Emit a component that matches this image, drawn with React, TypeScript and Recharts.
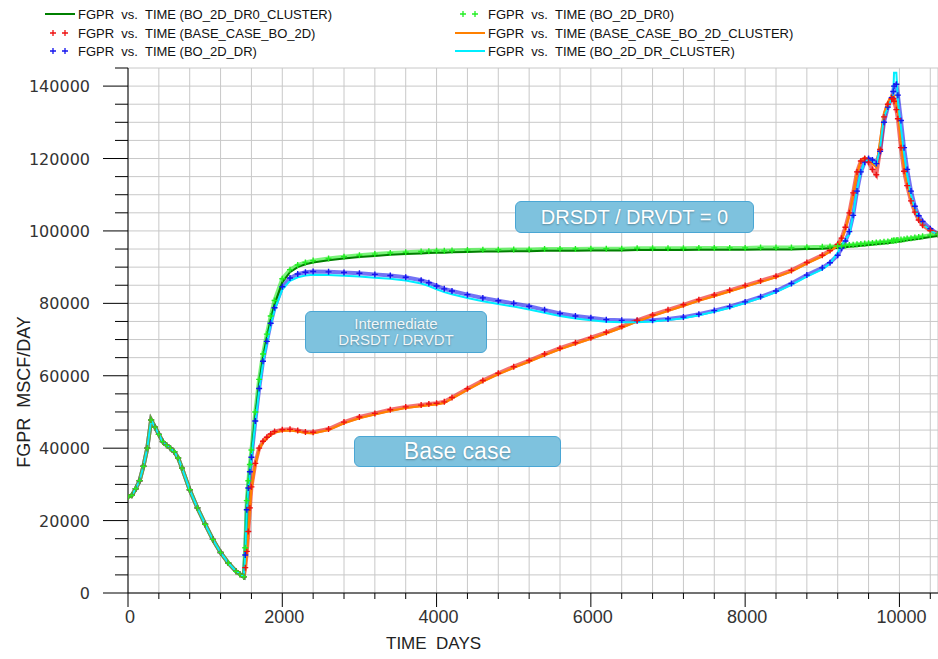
import React from 'react';
import { LineChart, Line, XAxis, YAxis, CartesianGrid } from 'recharts';

// Shared history (all cases identical before 1500 days)
const historyDays = [0, 50, 100, 150, 200, 250, 300, 350, 400, 450, 500, 550, 600, 650, 700, 800, 900, 1000, 1100, 1200, 1300, 1400, 1450, 1500];
const historyRate = [26500, 27000, 28800, 31000, 35000, 40000, 47800, 45800, 43800, 41800, 40800, 40000, 39000, 37300, 34500, 28500, 23500, 19000, 14800, 11200, 8300, 6000, 5200, 4500];

const forecastDays = [
  1520, 1540, 1560, 1580, 1600, 1650, 1700, 1750, 1800, 1850,
  1900, 2000, 2100, 2200, 2300, 2400, 2600, 2800, 3000, 3200,
  3400, 3600, 3800, 3900, 4000, 4100, 4200, 4400, 4600, 4800,
  5000, 5200, 5400, 5600, 5800, 6000, 6200, 6400, 6600, 6800,
  7000, 7200, 7400, 7600, 7800, 8000, 8200, 8400, 8600, 8800,
  9000, 9100, 9200, 9250, 9300, 9350, 9400, 9450, 9500, 9550,
  9600, 9650, 9700, 9750, 9800, 9850, 9900, 9920, 9930, 9960,
  9980, 10020, 10060, 10100, 10150, 10200, 10250, 10300, 10400, 10500,
];

const dr0ClusterRate = [
  11000, 24000, 29500, 34000, 38000, 48500, 57500, 65000, 70500, 75500,
  79800, 85800, 88600, 90000, 90800, 91300, 91900, 92400, 92800, 93100,
  93400, 93600, 93800, 93900, 94000, 94000, 94100, 94200, 94300, 94300,
  94400, 94400, 94500, 94500, 94500, 94600, 94600, 94600, 94700, 94700,
  94700, 94700, 94800, 94800, 94800, 94800, 94900, 94900, 94900, 95000,
  95100, 95200, 95300, 95400, 95500, 95600, 95700, 95800, 95900, 96000,
  96100, 96200, 96300, 96400, 96500, 96600, 96800, 96800, 96900, 96900,
  97000, 97100, 97200, 97400, 97500, 97700, 97800, 98000, 98300, 98600,
];

const dr0Rate = [
  12500, 25500, 31000, 35500, 39500, 50000, 59000, 66000, 71500, 76500,
  80800, 86800, 89300, 90600, 91300, 91800, 92400, 92900, 93300, 93600,
  93900, 94100, 94300, 94400, 94500, 94500, 94600, 94700, 94800, 94800,
  94900, 94900, 95000, 95000, 95000, 95100, 95100, 95100, 95200, 95200,
  95200, 95200, 95300, 95300, 95300, 95300, 95400, 95400, 95400, 95500,
  95600, 95700, 95800, 95900, 96000, 96100, 96200, 96300, 96400, 96500,
  96600, 96700, 96800, 96900, 97000, 97100, 97300, 97300, 97400, 97400,
  97500, 97600, 97700, 97900, 98000, 98200, 98300, 98500, 98800, 99100,
];

const baseRate = [
  7000, 11500, 17000, 23500, 29300, 35800, 40000, 41900, 43000, 43900,
  44600, 45100, 45200, 44900, 44500, 44400, 45300, 47200, 48600, 49600,
  50600, 51400, 51900, 52200, 52400, 52800, 54000, 56400, 58700, 60700,
  62500, 64200, 66000, 67600, 69100, 70500, 72000, 73600, 75300, 76800,
  78200, 79600, 81000, 82300, 83600, 84900, 86200, 87500, 89100, 91300,
  93300, 94600, 96300, 98000, 101000, 105000, 110500, 116300, 119300, 120000,
  119000, 117000, 115500, 122500, 131500, 135000, 136500, 136500, 135800, 133500,
  131000, 123000, 116500, 112500, 108300, 105200, 103000, 101600, 100100, 99100,
];

const baseClusterRate = [
  6500, 11000, 16400, 22900, 28800, 35400, 39700, 41600, 42700, 43600,
  44300, 44800, 44900, 44600, 44200, 44100, 45000, 46900, 48300, 49300,
  50300, 51100, 51600, 51900, 52100, 52500, 53700, 56100, 58400, 60400,
  62200, 63900, 65700, 67300, 68800, 70200, 71700, 73300, 75000, 76500,
  77900, 79300, 80700, 82000, 83300, 84600, 85900, 87200, 88800, 91000,
  93000, 94300, 96000, 97600, 100500, 104500, 110000, 116000, 119300, 120300,
  119700, 118500, 117600, 125000, 132500, 135600, 137500, 137700, 137300, 135000,
  133000, 124000, 117200, 113000, 108700, 105400, 103200, 101700, 100100, 99100,
];

const drRate = [
  10500, 23000, 29000, 33500, 37500, 47500, 56500, 64000, 69500, 74500,
  78800, 84600, 87000, 88100, 88600, 88800, 88700, 88500, 88300, 88000,
  87700, 87200, 86400, 85700, 84800, 84000, 83400, 82400, 81500, 80700,
  80000, 79200, 78200, 77200, 76500, 76000, 75500, 75300, 75200, 75300,
  75700, 76200, 77000, 78000, 79100, 80400, 81800, 83400, 85500, 87800,
  89800, 91200, 93300, 95200, 97200, 99800, 104300, 111000, 116300, 119000,
  120000, 119600, 118600, 122000, 130000, 134200, 136800, 138500, 140000, 140500,
  137500, 130500, 123000, 117000, 111000, 106800, 104200, 102600, 100600, 99100,
];

const drClusterRate = [
  10500, 23000, 29000, 33500, 37500, 47000, 56000, 63500, 69000, 74000,
  78200, 83800, 86200, 87200, 87700, 87900, 87800, 87600, 87400, 87100,
  86800, 86300, 85500, 84800, 83900, 83100, 82500, 81500, 80600, 79800,
  79100, 78300, 77400, 76500, 75800, 75300, 74900, 74800, 74800, 75000,
  75400, 75900, 76700, 77700, 78800, 80100, 81500, 83100, 85100, 87400,
  89400, 91000, 94000, 96000, 97700, 99000, 104500, 111500, 116300, 119000,
  119800, 119300, 118200, 123000, 131500, 134000, 136600, 137700, 143700, 143700,
  136000, 128500, 121500, 115500, 110000, 106300, 103600, 102000, 100100, 99000,
];

const xTicks = [0, 400, 800, 1200, 1600, 2000, 2400, 2800, 3200, 3600, 4000, 4400, 4800, 5200, 5600, 6000, 6400, 6800, 7200, 7600, 8000, 8400, 8800, 9200, 9600, 10000, 10400];
const yTicks = [0, 5000, 10000, 15000, 20000, 25000, 30000, 35000, 40000, 45000, 50000, 55000, 60000, 65000, 70000, 75000, 80000, 85000, 90000, 95000, 100000, 105000, 110000, 115000, 120000, 125000, 130000, 135000, 140000, 145000];

const COLORS = {
  dr0c: '#008000',
  dr0: '#22ee22',
  base: '#ee1111',
  basec: '#ff8000',
  dr: '#1515ee',
  drc: '#00eeff',
};

const allDays = [...historyDays, ...forecastDays];
const join = (arr: number[]) => [...historyRate, ...arr];
const s = {
  dr0c: join(dr0ClusterRate),
  dr0: join(dr0Rate),
  base: join(baseRate),
  basec: join(baseClusterRate),
  dr: join(drRate),
  drc: join(drClusterRate),
};
const rows = allDays.map((t, i) => ({
  t,
  dr0c: s.dr0c[i],
  dr0: s.dr0[i],
  base: s.base[i],
  basec: s.basec[i],
  dr: s.dr[i],
  drc: s.drc[i],
}));

const plusDot = (color: string) => (props: any) => {
  const { cx, cy, index } = props;
  if (cx == null || cy == null) return <g key={index} />;
  return (
    <path
      key={index}
      d={`M${cx - 3},${cy}H${cx + 3}M${cx},${cy - 3}V${cy + 3}`}
      stroke={color}
      strokeWidth={1.4}
      fill="none"
    />
  );
};

const XTick = (props: any) => {
  const { x, y, payload } = props;
  const v = payload.value;
  const major = v % 2000 === 0;
  return (
    <g>
      <line x1={x} x2={x} y1={y} y2={y + (major ? 14 : 6)} stroke="#000" strokeWidth={1} />
      {major && (
        <text x={x + 2} y={y + 30} textAnchor="middle" fontFamily="'Liberation Sans', Arial, sans-serif" fontSize={18} fill="#333">
          {v}
        </text>
      )}
    </g>
  );
};

const YTick = (props: any) => {
  const { x, y, payload } = props;
  const v = payload.value;
  const major = v % 20000 === 0;
  return (
    <g>
      <line x1={x - (major ? 25 : 13)} x2={x} y1={y} y2={y} stroke="#000" strokeWidth={1} />
      {major && (
        <text x={x - 38} y={y + 6} textAnchor="end" fontFamily="'DejaVu Sans', sans-serif" fontSize={16} fill="#333">
          {v}
        </text>
      )}
    </g>
  );
};

const legendLeft = [
  { label: 'FGPR  vs.  TIME (BO_2D_DR0_CLUSTER)', kind: 'line', color: COLORS.dr0c },
  { label: 'FGPR  vs.  TIME (BASE_CASE_BO_2D)', kind: 'marker', color: COLORS.base },
  { label: 'FGPR  vs.  TIME (BO_2D_DR)', kind: 'marker', color: COLORS.dr },
];
const legendRight = [
  { label: 'FGPR  vs.  TIME (BO_2D_DR0)', kind: 'marker', color: COLORS.dr0 },
  { label: 'FGPR  vs.  TIME (BASE_CASE_BO_2D_CLUSTER)', kind: 'line', color: COLORS.basec },
  { label: 'FGPR  vs.  TIME (BO_2D_DR_CLUSTER)', kind: 'line', color: COLORS.drc },
];
const legendRowsY = [14, 33, 51];

const LegendItem = ({ item, left, top }: any) => (
  <div style={{ position: 'absolute', left, top: top - 9, height: 18, display: 'flex', alignItems: 'center' }}>
    <svg width={32} height={18} style={{ display: 'block' }}>
      {item.kind === 'line' ? (
        <line x1={0} x2={30} y1={9} y2={9} stroke={item.color} strokeWidth={2} />
      ) : (
        <g stroke={item.color} strokeWidth={1.3}>
          <path d="M5,9H11M8,6V12" />
          <path d="M17,9H23M20,6V12" />
        </g>
      )}
    </svg>
    <span style={{ fontFamily: "'Liberation Sans', Arial, sans-serif", fontSize: 13, color: '#111', whiteSpace: 'pre', marginLeft: 1 }}>
      {item.label}
    </span>
  </div>
);

const boxStyle: React.CSSProperties = {
  position: 'absolute',
  boxSizing: 'border-box',
  background: '#7ec2de',
  border: '1.5px solid #4aa6d4',
  borderRadius: 6,
  color: '#fff',
  display: 'flex',
  flexDirection: 'column',
  alignItems: 'center',
  justifyContent: 'center',
  textAlign: 'center',
  fontFamily: "'Liberation Sans', Arial, sans-serif",
  textShadow: '0 1px 2px rgba(0,0,0,0.3)',
};

export default function App() {
  return (
    <div style={{ position: 'absolute', left: 0, top: 0, width: 938, height: 659, background: '#fff', overflow: 'hidden' }}>
      <LineChart width={938} height={659} data={rows} margin={{ top: 68, right: 0, bottom: 0, left: 0 }}>
        <CartesianGrid stroke="#c8c8c8" strokeWidth={1} />
        <XAxis
          dataKey="t"
          type="number"
          domain={[0, 10500]}
          ticks={xTicks}
          interval={0}
          height={66}
          tickSize={0}
          tickMargin={0}
          tickLine={false}
          tick={<XTick />}
          axisLine={{ stroke: '#000', strokeWidth: 1 }}
          allowDataOverflow
        />
        <YAxis
          type="number"
          domain={[0, 145000]}
          ticks={yTicks}
          interval={0}
          width={128}
          tickSize={0}
          tickMargin={0}
          tickLine={false}
          tick={<YTick />}
          axisLine={{ stroke: '#000', strokeWidth: 1 }}
          allowDataOverflow
        />
        <Line dataKey="dr" type="linear" stroke={COLORS.dr} strokeOpacity={0.6} strokeWidth={4} dot={plusDot(COLORS.dr)} isAnimationActive={false} />
        <Line dataKey="base" type="linear" stroke={COLORS.base} strokeOpacity={0.6} strokeWidth={4} dot={plusDot(COLORS.base)} isAnimationActive={false} />
        <Line dataKey="dr0" type="linear" stroke={COLORS.dr0} strokeOpacity={0.6} strokeWidth={4} dot={plusDot(COLORS.dr0)} isAnimationActive={false} />
        <Line dataKey="dr0c" type="linear" stroke={COLORS.dr0c} strokeWidth={2} dot={false} isAnimationActive={false} />
        <Line dataKey="basec" type="linear" stroke={COLORS.basec} strokeWidth={2.2} dot={false} isAnimationActive={false} />
        <Line dataKey="drc" type="linear" stroke={COLORS.drc} strokeWidth={2} dot={false} isAnimationActive={false} />
      </LineChart>

      {legendLeft.map((item, i) => (
        <LegendItem key={'l' + i} item={item} left={45} top={legendRowsY[i]} />
      ))}
      {legendRight.map((item, i) => (
        <LegendItem key={'r' + i} item={item} left={455} top={legendRowsY[i]} />
      ))}

      <div style={{ ...boxStyle, left: 515, top: 201, width: 239, height: 32, fontSize: 20 }}>DRSDT / DRVDT = 0</div>
      <div style={{ ...boxStyle, left: 305, top: 311, width: 182, height: 42, fontSize: 15, lineHeight: '16px', color: 'rgba(255,255,255,0.92)' }}>
        <div>Intermediate</div>
        <div>DRSDT / DRVDT</div>
      </div>
      <div style={{ ...boxStyle, left: 354, top: 436, width: 207, height: 31, fontSize: 23 }}>Base case</div>

      <div style={{ position: 'absolute', left: 386, top: 634, fontFamily: "'Liberation Sans', Arial, sans-serif", fontSize: 17, color: '#222', whiteSpace: 'pre' }}>
        TIME  DAYS
      </div>
      <div
        style={{
          position: 'absolute',
          left: 24,
          top: 392,
          transform: 'translate(-50%, -50%) rotate(-90deg)',
          fontFamily: "'Liberation Sans', Arial, sans-serif",
          fontSize: 18,
          color: '#222',
          whiteSpace: 'pre',
        }}
      >
        FGPR  MSCF/DAY
      </div>
    </div>
  );
}
